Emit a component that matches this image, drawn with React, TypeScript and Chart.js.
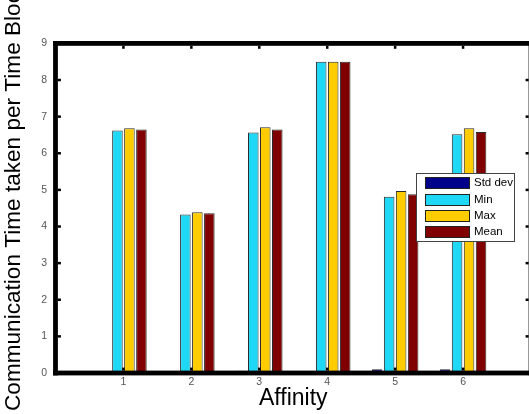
import React, { useEffect, useRef } from 'react';
import { Chart, registerables } from 'chart.js';

Chart.register(...registerables);

const affinity = [1, 2, 3, 4, 5, 6];
const stdDev = [0.02, 0.02, 0.06, 0.01, 0.1, 0.1];
const minVals = [6.62, 4.33, 6.57, 8.5, 4.81, 6.52];
const maxVals = [6.68, 4.39, 6.71, 8.5, 4.97, 6.68];
const meanVals = [6.65, 4.36, 6.65, 8.5, 4.88, 6.58];
const seriesNames = ['Std dev', 'Min', 'Max', 'Mean'];
const seriesColors = ['#00008B', '#1ED8F6', '#FFCC00', '#800000'];
const yTickValues = [0, 1, 2, 3, 4, 5, 6, 7, 8, 9];
const xTitle = 'Affinity';
const yTitle = 'Communication Time taken per Time Block';

const FONT = '"Liberation Sans", Arial, Helvetica, sans-serif';

const framePlugin = {
  id: 'matlabFrame',
  afterDatasetsDraw(chart: any) {
    const { ctx, chartArea, scales } = chart;
    const { left, right, top, bottom } = chartArea;
    const lw = 4.8;
    ctx.save();
    ctx.fillStyle = '#000';
    ctx.fillRect(left - lw / 2, top - lw / 2, lw, bottom - top + lw);
    ctx.fillRect(left - lw / 2, bottom - lw / 2, right - left + lw, lw);
    ctx.fillRect(left - lw / 2, top - lw / 2, right - left + lw, lw);
    ctx.fillRect(right - lw / 2, top - lw / 2, lw, bottom - top + lw);
    for (const v of yTickValues) {
      if (v === 0 || v === 9) continue;
      const py = scales.y.getPixelForValue(v);
      ctx.fillRect(left + lw / 2, py - 1.25, 3, 2.5);
      ctx.fillRect(right - lw / 2 - 3, py - 1.25, 3, 2.5);
    }
    for (const c of affinity) {
      const px = scales.x.getPixelForValue(c);
      ctx.fillRect(px - 1.25, top + lw / 2, 2.5, 3);
      ctx.fillRect(px - 1.25, bottom - lw / 2 - 3, 2.5, 3);
    }
    ctx.restore();
  },
  afterDraw(chart: any) {
    const { ctx } = chart;
    // y axis title
    ctx.save();
    ctx.fillStyle = '#000';
    ctx.font = `22.6px ${FONT}`;
    ctx.translate(14, 411);
    ctx.rotate(-Math.PI / 2);
    ctx.textAlign = 'left';
    ctx.textBaseline = 'middle';
    ctx.fillText(yTitle, 0, 0);
    ctx.restore();

    // legend box
    const bx = 416, by = 173, bw = 99, bh = 69;
    ctx.save();
    ctx.fillStyle = '#fff';
    ctx.fillRect(bx, by, bw, bh);
    ctx.strokeStyle = '#444';
    ctx.lineWidth = 1;
    ctx.strokeRect(bx + 0.5, by + 0.5, bw - 1, bh - 1);
    const rowY = [183, 200, 216, 232];
    chart.data.datasets.forEach((ds: any, i: number) => {
      const cy = rowY[i];
      ctx.fillStyle = ds.backgroundColor;
      ctx.fillRect(425, cy - 6, 45, 12);
      ctx.strokeStyle = '#222';
      ctx.strokeRect(425.5, cy - 5.5, 44, 11);
      ctx.fillStyle = '#000';
      ctx.font = `11.5px ${FONT}`;
      ctx.textAlign = 'left';
      ctx.textBaseline = 'middle';
      ctx.fillText(ds.label, 474, cy);
    });
    ctx.restore();
  },
};

export default function App() {
  const canvasRef = useRef<HTMLCanvasElement | null>(null);

  useEffect(() => {
    const canvas = canvasRef.current;
    if (!canvas) return;
    const valueSets = [stdDev, minVals, maxVals, meanVals];
    const chart = new Chart(canvas, {
      type: 'bar',
      data: {
        datasets: seriesNames.map((name, i) => ({
          label: name,
          data: affinity.map((a, j) => ({ x: a, y: valueSets[i][j] })),
          backgroundColor: seriesColors[i],
          borderColor: '#2a2a2a',
          borderWidth: 1,
          categoryPercentage: 0.706,
          barPercentage: 0.88,
        })),
      },
      options: {
        animation: false,
        responsive: false,
        devicePixelRatio: 1,
        layout: { padding: { left: 0, right: 14, top: 43.4, bottom: 1.7 } },
        plugins: { legend: { display: false }, tooltip: { enabled: false } },
        scales: {
          x: {
            type: 'linear',
            min: 0,
            max: 7,
            offset: false,
            grid: { display: false, drawTicks: false },
            border: { display: false },
            ticks: {
              stepSize: 1,
              padding: 3,
              color: '#555',
              font: { size: 10.5, family: FONT },
              maxRotation: 0,
              autoSkip: false,
              callback: (v: any) => (affinity.includes(Number(v)) ? String(v) : ''),
            },
            title: { display: true, text: xTitle, color: '#000', font: { size: 23, family: FONT }, padding: 0 },
            afterFit: (s: any) => { s.height = 39.3; },
          },
          y: {
            type: 'linear',
            min: 0,
            max: 9,
            grid: { display: false, drawTicks: false },
            border: { display: false },
            ticks: {
              stepSize: 1,
              padding: 8.5,
              color: '#555',
              font: { size: 10.5, family: FONT },
            },
            afterFit: (s: any) => { s.width = 55.5; },
          },
        },
      },
      plugins: [framePlugin],
    } as any);
    return () => chart.destroy();
  }, []);

  return (
    <div style={{ position: 'fixed', left: 0, top: 0, width: 529, height: 414, overflow: 'hidden', background: '#fff' }}>
      <canvas ref={canvasRef} width={545} height={414} style={{ display: 'block', width: 545, height: 414 }} />
    </div>
  );
}
